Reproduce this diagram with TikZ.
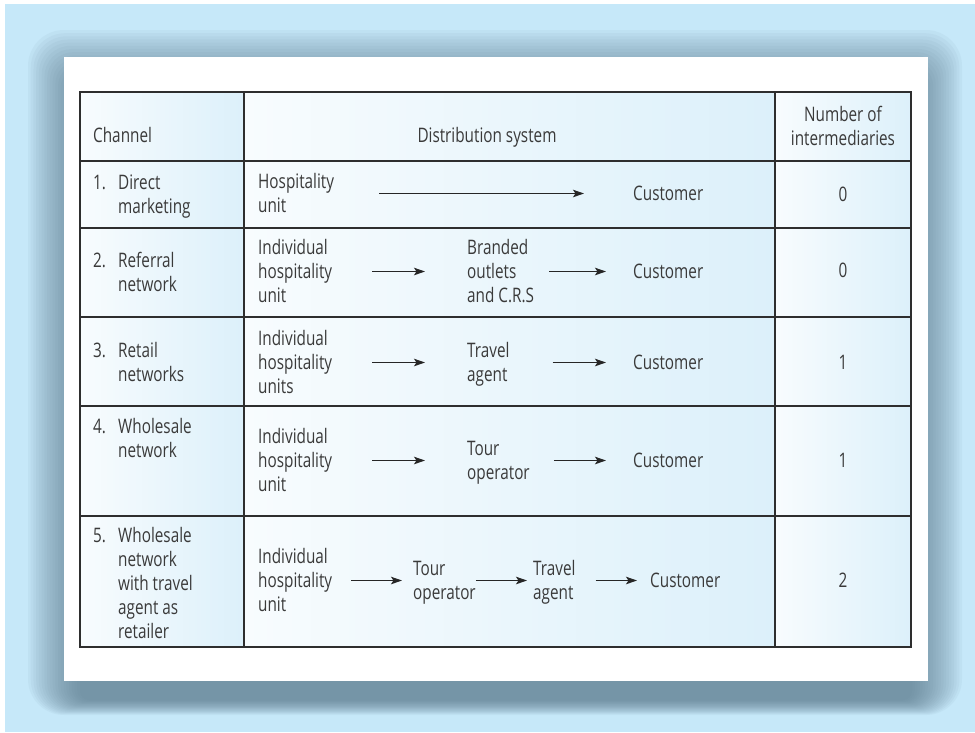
\documentclass[tikz,border=0pt]{standalone}
\usepackage{fontspec}
\setmainfont{Open Sans}[FakeStretch=0.765]
\usetikzlibrary{arrows.meta}
\definecolor{bgblue}{HTML}{C6E8F9}
\definecolor{shadowc}{HTML}{5A7A8C}
\definecolor{cellblue}{HTML}{DCF0FA}
\definecolor{cellwhite}{HTML}{F8FCFE}
\definecolor{linec}{HTML}{2E2E2E}
\definecolor{textc}{HTML}{3A3A3A}
\newcommand{\ml}[1]{\begin{tabular}{@{}l@{}}#1\end{tabular}}
\newcommand{\mc}[1]{\begin{tabular}{@{}c@{}}#1\end{tabular}}
\newcommand{\nl}[2]{\begin{tabular}{@{}p{25pt}@{}l@{}}#1 & #2\end{tabular}}
\begin{document}
\begin{tikzpicture}[x=1pt,y=-1pt,
  txt/.style={font=\fontsize{20}{24}\selectfont, text=textc, inner sep=0pt},
  lft/.style={txt, anchor=west},
  arr/.style={draw=black!85, line width=1.05pt, -{Stealth[length=11pt,width=7.5pt,inset=2.5pt]}, transform canvas={yshift=2.5pt}},
  grid/.style={draw=linec, line width=1.3pt}]
\useasboundingbox (0,0) rectangle (975,732);
\fill[white] (0,0) rectangle (975,732);
\fill[bgblue] (5,4) rectangle (975,732);
% soft shadow
\foreach \k in {0,...,19}{
  \pgfmathsetmacro\sxl{28+\k*52/19}
  \pgfmathsetmacro\syt{30+\k*60/19}
  \pgfmathsetmacro\sxr{962-\k*50/19}
  \pgfmathsetmacro\syb{715-\k*15/19}
  \pgfmathsetmacro\srr{36-\k*1.4}
  \fill[shadowc, opacity=0.06, rounded corners=\srr pt] (\sxl,\syt) rectangle (\sxr,\syb);
}
\fill[white] (64,57) rectangle (928,681);
% cells
\foreach \ya/\yb in {92/161,161/228,228/317,317/406,406/516,516/647}{
  \foreach \xa/\xb in {80/244,244/775,775/911}{
    \shade[left color=cellwhite, right color=cellblue] (\xa,\ya) rectangle (\xb,\yb);
  }
}
\draw[grid] (80,92) rectangle (911,647);
\draw[grid] (244,92) -- (244,647) (775,92) -- (775,647);
\foreach \yy in {161,228,317,406,516}{ \draw[grid] (80,\yy) -- (911,\yy); }
% header
\node[lft] (hch) at (93,138) {\ml{Channel}};
\node[txt] (hds) at (487,138) {\ml{Distribution system}};
\node[txt] (hni) at (843,128.7) {\mc{Number of\\intermediaries}};
% row 1
\node[lft] (l1) at (93,197) {\nl{1.}{Direct\\ & marketing}};
\node[lft] (s1) at (258,196) {\ml{Hospitality\\unit}};
\node[lft] (c1) at (633,196) {\ml{Customer}};
\node[txt] (n1) at (843,197) {\ml{0}};
\draw[arr, shorten <=45pt, shorten >=49pt] (s1) -- (c1);
% row 2
\node[lft] (l2) at (93,275) {\nl{2.}{Referral\\ & network}};
\node[lft] (s2) at (258,274) {\ml{Individual\\hospitality\\unit}};
\node[lft] (b2) at (467,274) {\ml{Branded\\outlets\\and C.R.S}};
\node[lft] (c2) at (633,274) {\ml{Customer}};
\node[txt] (n2) at (843,273) {\ml{0}};
\draw[arr, shorten <=40pt, shorten >=42pt] (s2) -- (b2);
\draw[arr, shorten <=15pt, shorten >=27pt] (b2) -- (c2);
% row 3
\node[lft] (l3) at (93,365) {\nl{3.}{Retail\\ & networks}};
\node[lft] (s3) at (258,365) {\ml{Individual\\hospitality\\units}};
\node[lft] (t3) at (467,365) {\ml{Travel\\agent}};
\node[lft] (c3) at (633,365) {\ml{Customer}};
\node[txt] (n3) at (843,365) {\ml{1}};
\draw[arr, shorten <=40pt, shorten >=42pt] (s3) -- (t3);
\draw[arr, shorten <=43pt, shorten >=27pt] (t3) -- (c3);
% row 4
\node[lft] (l4) at (93,441) {\nl{4.}{Wholesale\\ & network}};
\node[lft] (s4) at (258,463) {\ml{Individual\\hospitality\\unit}};
\node[lft] (o4) at (467,463) {\ml{Tour\\operator}};
\node[lft] (c4) at (633,463) {\ml{Customer}};
\node[txt] (n4) at (843,463) {\ml{1}};
\draw[arr, shorten <=40pt, shorten >=42pt] (s4) -- (o4);
\draw[arr, shorten <=24pt, shorten >=27pt] (o4) -- (c4);
% row 5
\node[lft] (l5) at (93,586) {\nl{5.}{Wholesale\\ & network\\ & with travel\\ & agent as\\ & retailer}};
\node[lft] (s5) at (258,583) {\ml{Individual\\hospitality\\unit}};
\node[lft] (o5) at (413,583) {\ml{Tour\\operator}};
\node[lft] (t5) at (533,583) {\ml{Travel\\agent}};
\node[lft] (c5) at (650,583) {\ml{Customer}};
\node[txt] (n5) at (843,583) {\ml{2}};
\draw[arr, shorten <=19pt, shorten >=11pt] (s5) -- (o5);
\draw[arr, shorten <=0pt, shorten >=6pt] (o5) -- (t5);
\draw[arr, shorten <=20pt, shorten >=13pt] (t5) -- (c5);
\end{tikzpicture}
\end{document}
